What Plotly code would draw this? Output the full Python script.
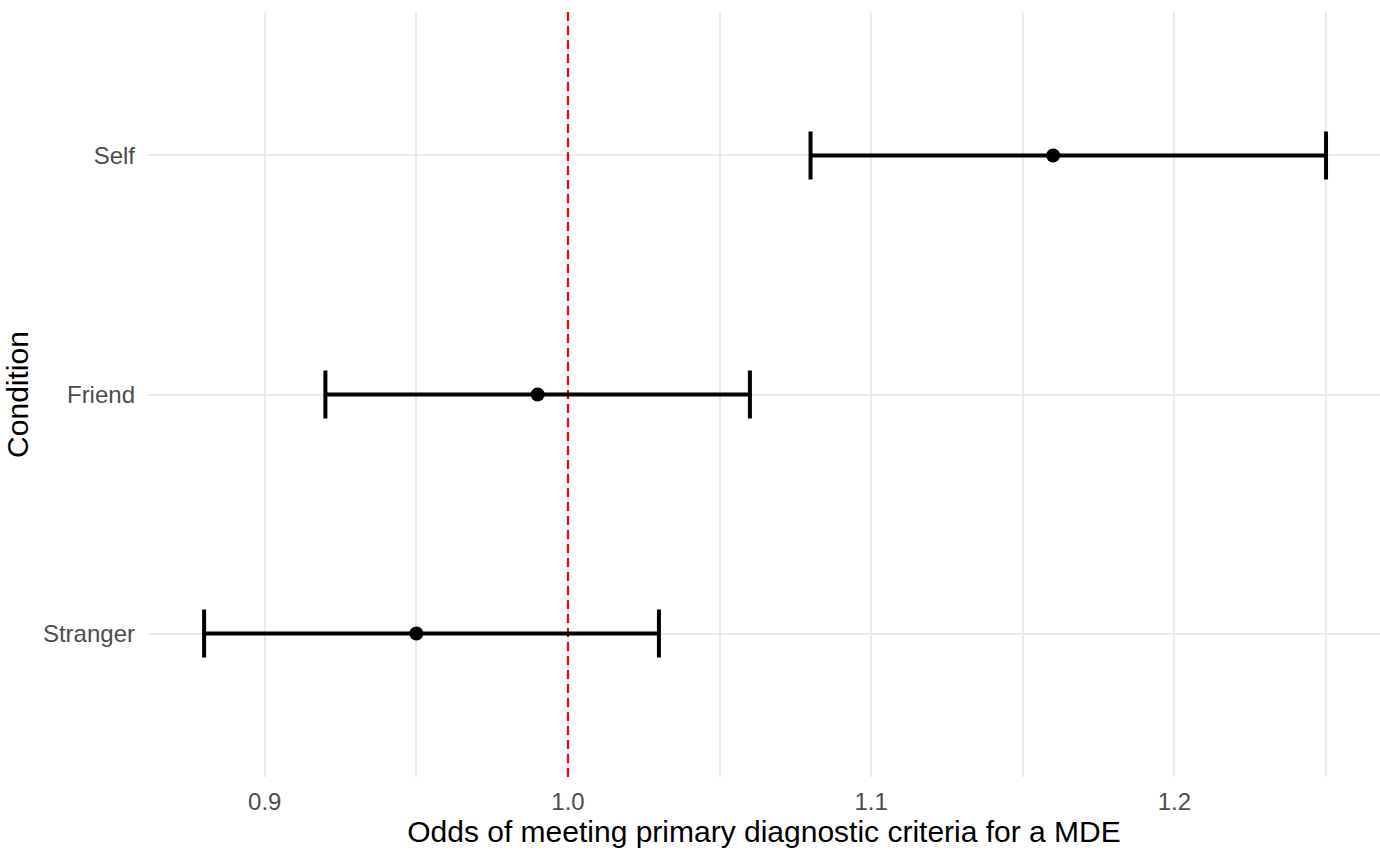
import plotly.graph_objects as go

conditions = ["Stranger", "Friend", "Self"]
estimates = [0.95, 0.99, 1.16]
ci_low = [0.88, 0.92, 1.08]
ci_high = [1.03, 1.06, 1.25]
x_ticks = [0.9, 1.0, 1.1, 1.2]
x_tick_labels = ["0.9", "1.0", "1.1", "1.2"]
x_minor = [0.95, 1.05, 1.15, 1.25]
reference_value = 1.0

x_range = [0.8615, 1.2678]
y_pos = list(range(len(conditions)))
y_range = [-0.6, len(conditions) - 1 + 0.6]

err_plus = [h - e for h, e in zip(ci_high, estimates)]
err_minus = [e - l for e, l in zip(estimates, ci_low)]

FONT = "Liberation Sans, Arial, sans-serif"
GRID = "#ebebeb"

fig = go.Figure()
# reference line (drawn first so the error bars sit on top of it)
fig.add_trace(go.Scatter(
    x=[reference_value, reference_value], y=y_range, mode="lines",
    line=dict(color="red", width=2.2, dash="9px,5px"),
    showlegend=False, hoverinfo="skip", cliponaxis=True,
))
fig.add_trace(go.Scatter(
    x=estimates, y=y_pos, mode="markers",
    marker=dict(color="black", size=14),
    error_x=dict(type="data", symmetric=False, array=err_plus, arrayminus=err_minus,
                 color="black", thickness=4, width=24),
    showlegend=False, hoverinfo="skip",
))

fig.update_layout(
    width=1380, height=855,
    margin=dict(l=148, r=0, t=12, b=78),
    paper_bgcolor="white", plot_bgcolor="white",
    font=dict(family=FONT),
    xaxis=dict(
        range=x_range, tickvals=x_ticks, ticktext=x_tick_labels,
        showgrid=True, gridcolor=GRID, gridwidth=2, zeroline=False, showline=False,
        ticks="", tickfont=dict(size=24, color="#4d4d4d"), ticklabelstandoff=8,
        minor=dict(tickvals=x_minor, showgrid=True, gridcolor=GRID, gridwidth=2, ticks=""),
        title=dict(text="Odds of meeting primary diagnostic criteria for a MDE",
                   font=dict(size=30, color="black"), standoff=3),
        automargin=False,
    ),
    yaxis=dict(
        range=y_range, tickvals=y_pos, ticktext=conditions,
        showgrid=True, gridcolor=GRID, gridwidth=2,
        zeroline=False, showline=False, ticks="",
        tickfont=dict(size=24, color="#4d4d4d"), ticklabelstandoff=12,
        title=dict(text="Condition", font=dict(size=30, color="black"), standoff=5),
        automargin=False,
    ),
)

fig.write_html("out.html")
